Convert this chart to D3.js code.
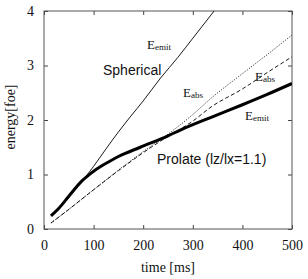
<!DOCTYPE html>
<html>
<head>
<meta charset="utf-8">
<script src="https://cdn.jsdelivr.net/npm/d3@7"></script>
<style>
body { margin: 0; background: #fff; }
</style>
</head>
<body>
<div id="chart"></div>
<script>
var svgWidth = 308;
var svgHeight = 279;

var margin = { top: 11, left: 44, right: 16, bottom: 50 };
var width = svgWidth - margin.left - margin.right;
var height = svgHeight - margin.top - margin.bottom;

// data (time in ms, energy in foe)
var sphEmitT = [14, 30, 50, 70, 85, 100, 125, 150, 175, 200, 235, 270, 300, 343, 360];
var sphEmitE = [0.24, 0.38, 0.58, 0.8, 0.97, 1.15, 1.47, 1.78, 2.07, 2.35, 2.77, 3.15, 3.5, 4.0, 4.2];

var proEmitT = [14, 30, 50, 75, 90, 100, 115, 130, 150, 194, 250, 276, 337, 400, 450, 500];
var proEmitE = [0.24, 0.38, 0.6, 0.87, 0.99, 1.06, 1.15, 1.23, 1.33, 1.5, 1.71, 1.82, 2.05, 2.28, 2.47, 2.67];

var absDotT = [14, 50, 100, 150, 200, 250, 300, 337, 400, 450, 500];
var absDotE = [0.11, 0.36, 0.72, 1.08, 1.42, 1.74, 2.1, 2.4, 2.85, 3.2, 3.56];

var absDashT = [14, 50, 100, 150, 200, 250, 300, 337, 400, 450, 500];
var absDashE = [0.11, 0.36, 0.72, 1.07, 1.4, 1.7, 1.98, 2.24, 2.57, 2.87, 3.16];

var xTicks = [0, 100, 200, 300, 400, 500];
var yTicks = [0, 1, 2, 3, 4];

var svg = d3.select("#chart").append("svg").attr("width", svgWidth).attr("height", svgHeight);
var chartGroup = svg.append("g").attr("transform", `translate(${margin.left},${margin.top})`);

var xScale = d3.scaleLinear().domain([0, 500]).range([0, width]);
var yScale = d3.scaleLinear().domain([0, 4]).range([height, 0]);

svg.append("defs").append("clipPath").attr("id", "plotClip")
    .append("rect").attr("width", width).attr("height", height);

var serif = "'Liberation Serif', 'DejaVu Serif', serif";
var sans = "'Liberation Sans', Arial, sans-serif";

// axes: inward ticks on all four sides
function styleAxis(g) {
    g.select(".domain").remove();
    g.selectAll(".tick line").attr("stroke", "#444").attr("stroke-width", 1);
    g.selectAll(".tick text").attr("font-family", serif).attr("font-size", "14px").attr("fill", "#111");
}

var xAxis = chartGroup.append("g").attr("transform", `translate(0,${height})`)
    .call(d3.axisBottom(xScale).tickValues(xTicks).tickSize(-4).tickPadding(11).tickFormat(d3.format("d")));
styleAxis(xAxis);

var yAxis = chartGroup.append("g")
    .call(d3.axisLeft(yScale).tickValues(yTicks).tickSize(-4).tickPadding(10).tickFormat(d3.format("d")));
styleAxis(yAxis);

var xTop = chartGroup.append("g")
    .call(d3.axisTop(xScale).tickValues(xTicks).tickSize(-4).tickFormat(""));
styleAxis(xTop);

var yRight = chartGroup.append("g").attr("transform", `translate(${width},0)`)
    .call(d3.axisRight(yScale).tickValues(yTicks).tickSize(-4).tickFormat(""));
styleAxis(yRight);

chartGroup.append("rect").attr("width", width).attr("height", height)
    .attr("fill", "none").attr("stroke", "#555").attr("stroke-width", 1);

// curves
var line = d3.line().x(d => xScale(d[0])).y(d => yScale(d[1])).curve(d3.curveMonotoneX);
var curves = chartGroup.append("g").attr("clip-path", "url(#plotClip)");

function addCurve(ts, es, w, dash) {
    var pts = d3.zip(ts, es);
    curves.append("path").datum(pts).attr("d", line)
        .attr("fill", "none").attr("stroke", "#000").attr("stroke-width", w)
        .attr("stroke-dasharray", dash);
}

addCurve(absDotT, absDotE, 0.8, "1.2,1.5");
addCurve(absDashT, absDashE, 0.9, "4,2.5");
addCurve(sphEmitT, sphEmitE, 0.9, null);
addCurve(proEmitT, proEmitE, 3, null);

// labels
function eLabel(x, y, sub) {
    var t = svg.append("text").attr("x", x).attr("y", y)
        .attr("font-family", serif).attr("font-size", "13px").attr("fill", "#111");
    t.append("tspan").text("E");
    t.append("tspan").attr("dy", 1).attr("font-size", "9px").text(sub);
}

eLabel(147, 49, "emit");
eLabel(183, 97, "abs");
eLabel(255, 81, "abs");
eLabel(245, 120, "emit");

svg.append("text").attr("x", 103).attr("y", 75)
    .attr("font-family", sans).attr("font-size", "14px").attr("fill", "#111").text("Spherical");

svg.append("text").attr("x", 157).attr("y", 164)
    .attr("font-family", sans).attr("font-size", "14px").attr("fill", "#111").text("Prolate (lz/lx=1.1)");

svg.append("text").attr("x", margin.left + width / 2).attr("y", 272).attr("text-anchor", "middle")
    .attr("font-family", serif).attr("font-size", "14px").attr("fill", "#111").text("time [ms]");

svg.append("text").attr("transform", `translate(15,${margin.top + height / 2 - 3}) rotate(-90)`)
    .attr("text-anchor", "middle")
    .attr("font-family", serif).attr("font-size", "14px").attr("fill", "#111").text("energy[foe]");
</script>
</body>
</html>
